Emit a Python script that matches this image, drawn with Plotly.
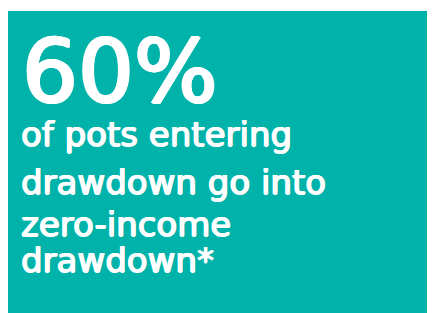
import plotly.graph_objects as go

W, H = 435, 313
headline = "60%"
lines = ["of pots entering", "drawdown go into", "zero-income", "drawdown*"]
teal = "#00B3AA"

# page body adds an 8px offset; coordinates below are in figure pixels
OFF = 8

fig = go.Figure()
fig.update_layout(
    width=W, height=H, margin=dict(l=0, r=0, t=0, b=0),
    paper_bgcolor="white", plot_bgcolor="white",
    xaxis=dict(visible=False, range=[0, W]),
    yaxis=dict(visible=False, range=[H, 0]),
    showlegend=False,
)
fig.add_shape(type="rect", xref="paper", yref="paper",
              x0=0, x1=1, y0=0, y1=1 - (11 - OFF) / H,
              fillcolor=teal, line=dict(width=0), layer="below")

def ypx(y):
    return 1 - y / H

font_family = "DejaVu Sans"
fig.add_annotation(text=headline, xref="paper", yref="paper",
                   x=12 / W, y=ypx(63.5), xanchor="left", yanchor="middle",
                   showarrow=False,
                   font=dict(family=font_family, size=88, color="white",
                             shadow="1.6px 0 0 #ffffff, -1.6px 0 0 #ffffff, 0 1.2px 0 #ffffff, 0 -1.2px 0 #ffffff, 1px 1px 0 #ffffff, -1px -1px 0 #ffffff"))
centers = [126.5, 173.5, 215.5, 252]
for t, c in zip(lines, centers):
    fig.add_annotation(text=t, xref="paper", yref="paper",
                       x=11 / W, y=ypx(c), xanchor="left", yanchor="middle",
                       showarrow=False,
                       font=dict(family=font_family, size=34, color="white",
                                 shadow="0.8px 0 0 #ffffff, -0.8px 0 0 #ffffff, 0 0.6px 0 #ffffff"))

fig.write_html("out.html")
